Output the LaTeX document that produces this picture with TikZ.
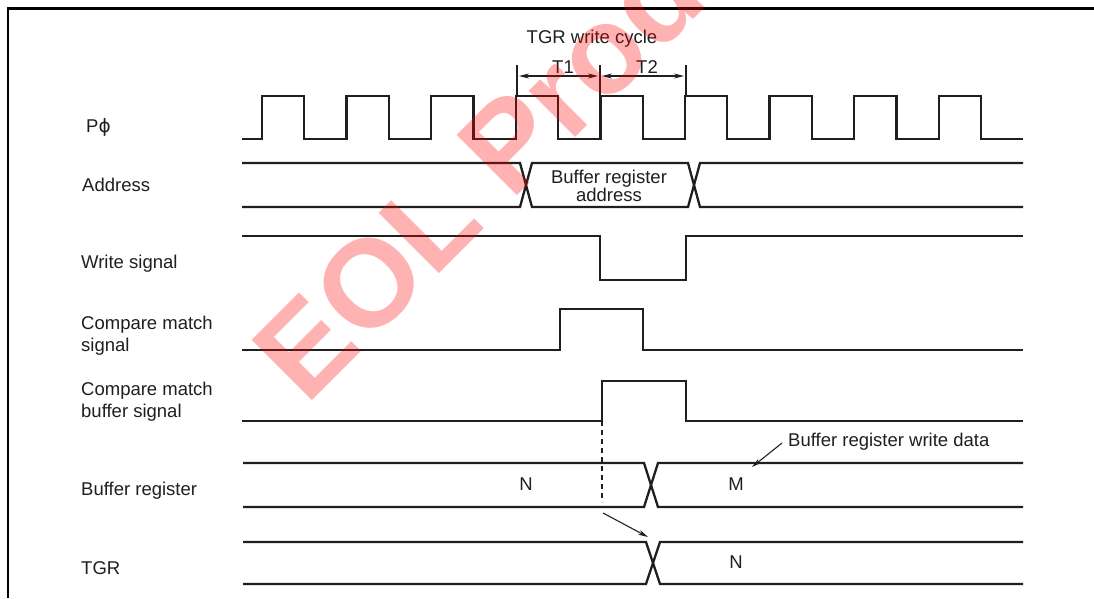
\documentclass[tikz,border=0pt]{standalone}
\usepackage{fontspec}
\setmainfont{Liberation Sans}
\newfontfamily\djv{DejaVu Sans}
\usetikzlibrary{arrows.meta}
\begin{document}
\begin{tikzpicture}[x=1pt,y=-1pt,
  sig/.style={line width=2.3pt, line join=miter, draw=black!88},
  lbl/.style={font=\fontsize{18.5}{22}\selectfont, text=black!88, inner sep=0pt},
  ann/.style={line width=1.1pt, draw=black!88},
  tip/.style={-{Stealth[length=10pt,width=5pt]}},
  dim/.style={{Stealth[length=10pt,width=5pt]}-{Stealth[length=10pt,width=5pt]}, line width=1.1pt, draw=black!88, shorten <=2pt, shorten >=2pt},
]
\useasboundingbox (0,0) rectangle (1094,598);
\fill[white] (0,0) rectangle (1094,598);
% frame
\draw[line width=2.4pt] (8,598) -- (8,8.4) -- (1094,8.4);

% clock
\draw[sig] (242,139) \foreach \k in {0,...,8} { -- ({262+84.6*\k},139) -- ({262+84.6*\k},96) -- ({304.3+84.6*\k},96) -- ({304.3+84.6*\k},139) } -- (1023,139);

% TGR write cycle dimension
\coordinate (k1t) at (517,65); \coordinate (k1b) at (517,96);
\coordinate (k2t) at (600,65); \coordinate (k2b) at (600,96);
\coordinate (k3t) at (686,65); \coordinate (k3b) at (686,96);
\draw[ann] (k1t) -- (k1b);
\draw[ann] (k2t) -- (k2b);
\draw[ann] (k3t) -- (k3b);
\coordinate (d1) at (517,76); \coordinate (d2) at (600,76); \coordinate (d3) at (686,76);
\draw[dim] (d1) -- (d2);
\draw[dim] (d2) -- (d3);
\node[lbl, anchor=base] (twc) at (592,43) {TGR write cycle};
\node[lbl, anchor=base] (t1) at (563,73) {T1};
\node[lbl, anchor=base] (t2) at (647,73) {T2};

% address
\draw[sig] (242,163) -- (520,163) -- (532,207) -- (688,207) -- (700,163) -- (1023,163);
\draw[sig] (242,207) -- (520,207) -- (532,163) -- (688,163) -- (700,207) -- (1023,207);
\node[lbl, anchor=base] (ba1) at (609,183) {Buffer register};
\node[lbl, anchor=base] (ba2) at (609,201) {address};

% write signal
\draw[sig] (242,236) -- (600,236) -- (600,280) -- (686,280) -- (686,236) -- (1023,236);
% compare match signal
\draw[sig] (242,350) -- (560,350) -- (560,309) -- (643,309) -- (643,350) -- (1023,350);
% compare match buffer signal
\draw[sig] (242,421) -- (602,421) -- (602,381) -- (686,381) -- (686,421) -- (1023,421);
% buffer register
\draw[sig] (243,463) -- (644,463) -- (658,507) -- (1023,507);
\draw[sig] (243,507) -- (644,507) -- (658,463) -- (1023,463);
% TGR
\draw[sig] (243,542) -- (646,542) -- (660,584) -- (1023,584);
\draw[sig] (243,584) -- (646,584) -- (660,542) -- (1023,542);

% dashed and arrows
\coordinate (dsa) at (602,421); \coordinate (dsb) at (602,502);
\draw[ann, dash pattern=on 5pt off 4pt] (dsa) -- (dsb);
\coordinate (ara) at (603,513); \coordinate (arb) at (648,537);
\draw[ann, tip] (ara) -- (arb);
\node[lbl, anchor=base west] (bwd) at (788,446) {Buffer register write data};
\coordinate (bwa) at (782,443); \coordinate (bwb) at (752,467);
\draw[ann, tip] (bwa) -- (bwb);

\node[lbl, anchor=base] (n1) at (526,490) {N};
\node[lbl, anchor=base] (m1) at (736,490) {M};
\node[lbl, anchor=base] (n2) at (736,568) {N};

% labels
\node[lbl, anchor=base west] (lp) at (86,132) {P{\djv ϕ}};
\node[lbl, anchor=base west] (la) at (82,191) {Address};
\node[lbl, anchor=base west] (lw) at (81,268) {Write signal};
\node[lbl, anchor=base west] (lc1) at (81,329) {Compare match};
\node[lbl, anchor=base west] (lc2) at (81,351) {signal};
\node[lbl, anchor=base west] (lb1) at (81,395) {Compare match};
\node[lbl, anchor=base west] (lb2) at (81,417) {buffer signal};
\node[lbl, anchor=base west] (lr) at (81,495) {Buffer register};
\node[lbl, anchor=base west] (lt) at (81,574) {TGR};

% watermark
\begin{scope}
\clip (0,0) rectangle (1094,598);
\node[rotate=45, anchor=base west, inner sep=0pt, text=red, text opacity=0.3, font=\fontsize{124}{124}\selectfont\bfseries] (wm) at (306.6,406.4) {EOL Product};
\end{scope}
\end{tikzpicture}
\end{document}
